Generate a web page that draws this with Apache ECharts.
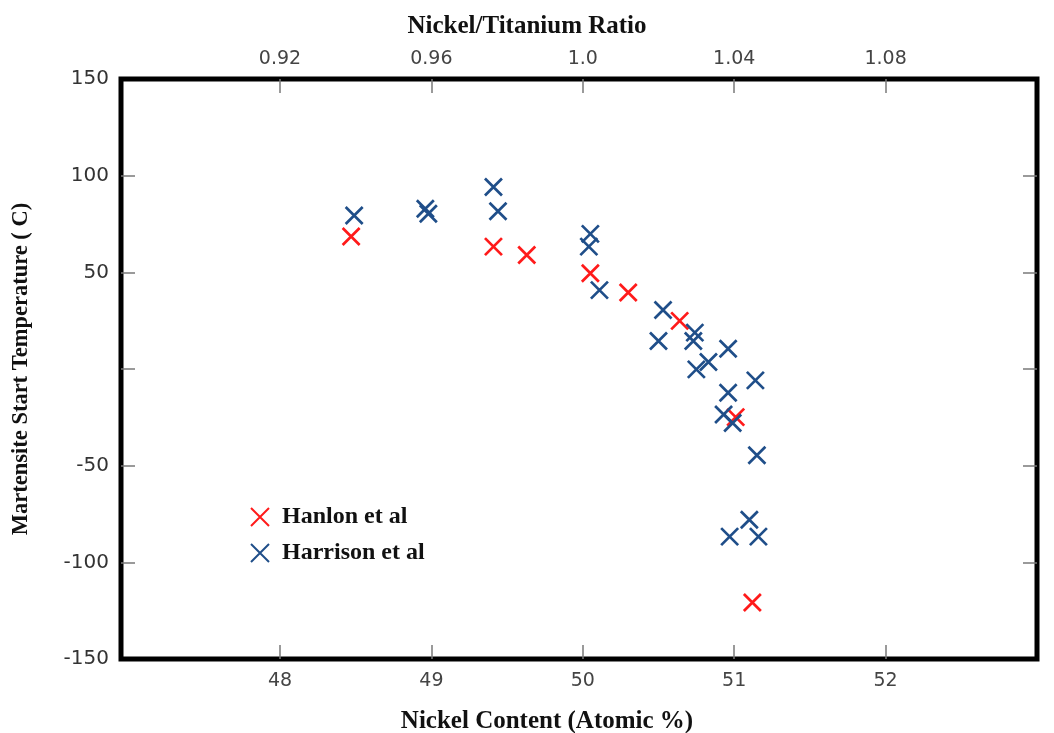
<!DOCTYPE html>
<html>
<head>
<meta charset="utf-8">
<script src="https://cdn.jsdelivr.net/npm/echarts@6/dist/echarts.min.js"></script>
<style>
html,body{margin:0;padding:0;background:#fff;}
#chart{width:1054px;height:733px;}
</style>
</head>
<body>
<div id="chart"></div>
<script>
// Data
const hanlonNi = [48.47, 49.41, 49.63, 50.05, 50.30, 50.64, 51.01, 51.12];
const hanlonMs = [68.5, 63.3, 59.0, 49.5, 39.6, 24.9, -24.9, -120.8];

const harrisonNi = [48.49, 48.96, 48.98, 49.41, 49.44, 50.05, 50.04, 50.11, 50.53, 50.50, 50.74, 50.73,
                    50.96, 50.83, 50.75, 51.14, 50.96, 50.93, 50.99, 51.15, 51.10, 50.97, 51.16];
const harrisonMs = [79.4, 82.9, 80.3, 94.1, 81.6, 69.9, 63.3, 40.8, 30.5, 14.5, 18.8, 14.5,
                    10.5, 3.6, -0.2, -5.9, -12.3, -23.5, -27.9, -44.6, -78.0, -86.7, -86.7];

const niTicks = [48, 49, 50, 51, 52];
const ratioLabels = ['0.92', '0.96', '1.0', '1.04', '1.08'];
const yTicks = [-100, -50, 0, 50, 100];

const seriesNames = ['Hanlon et al', 'Harrison et al'];

function pairs(xs, ys) { return xs.map((x, i) => [x, ys[i]]); }

const cross = 'path://M0,0L20,20M20,0L0,20';
const sansFont = 'DejaVu Sans';
const serifFont = 'Liberation Serif';

const chart = echarts.init(document.getElementById('chart'), null, {renderer: 'canvas'});
const tickStyle = {show: true, inside: true, length: 14, lineStyle: {color: '#7a7a7a', width: 1.5}};

chart.setOption({
  animation: false,
  backgroundColor: '#fff',
  grid: {left: 121, right: 17, top: 79, bottom: 74, containLabel: false, outerBoundsMode: 'none',
         show: true, borderColor: '#000', borderWidth: 5, backgroundColor: 'transparent'},
  legend: {
    data: seriesNames,
    orient: 'vertical',
    left: 245, top: 500,
    itemWidth: 18, itemHeight: 18, itemGap: 12,
    textStyle: {fontFamily: serifFont, fontWeight: 'bold', fontSize: 24, color: '#111', padding: [0, 0, 0, 8]}
  },
  xAxis: [
    {
      type: 'value', position: 'bottom', min: 46.95, max: 53,
      name: 'Nickel Content (Atomic %)', nameLocation: 'middle', nameGap: 50,
      nameTextStyle: {fontFamily: serifFont, fontWeight: 'bold', fontSize: 25, color: '#111', padding: [0, 64, 0, 0]},
      axisLine: {show: false, onZero: false},
      axisTick: Object.assign({customValues: niTicks}, tickStyle),
      axisLabel: {customValues: niTicks, margin: 13, fontFamily: sansFont, fontSize: 19, color: '#444'},
      splitLine: {show: false}
    },
    {
      type: 'value', position: 'top', min: 46.95, max: 53,
      name: 'Nickel/Titanium Ratio', nameLocation: 'middle', nameGap: 40,
      nameTextStyle: {fontFamily: serifFont, fontWeight: 'bold', fontSize: 25, color: '#111', padding: [0, 104, 0, 0]},
      axisLine: {show: false, onZero: false},
      axisTick: Object.assign({customValues: niTicks}, tickStyle),
      axisLabel: {customValues: niTicks, margin: 10, fontFamily: sansFont, fontSize: 19, color: '#444',
        formatter: v => ratioLabels[niTicks.indexOf(Math.round(v))] || ''},
      splitLine: {show: false}
    }
  ],
  yAxis: [
    {
      type: 'value', position: 'left', min: -150, max: 150, interval: 50,
      name: 'Martensite Start Temperature ( C)', nameLocation: 'middle', nameGap: 88, nameRotate: 90,
      nameTextStyle: {fontFamily: serifFont, fontWeight: 'bold', fontSize: 22.5, color: '#111'},
      axisLine: {show: false, onZero: false},
      axisTick: Object.assign({customValues: yTicks}, tickStyle),
      axisLabel: {margin: 12, fontFamily: sansFont, fontSize: 20, color: '#333',
        formatter: v => (v === 0 ? '' : String(v))},
      splitLine: {show: false}
    },
    {
      type: 'value', position: 'right', min: -150, max: 150, interval: 50,
      axisLine: {show: false, onZero: false},
      axisTick: Object.assign({customValues: yTicks}, tickStyle),
      axisLabel: {show: false},
      splitLine: {show: false}
    }
  ],
  series: [
    {
      name: seriesNames[0], type: 'scatter', xAxisIndex: 0, yAxisIndex: 0,
      symbol: cross, symbolSize: 17,
      itemStyle: {color: 'rgba(0,0,0,0)', borderColor: '#ff1a1a', borderWidth: 2.7, opacity: 1},
      data: pairs(hanlonNi, hanlonMs)
    },
    {
      name: seriesNames[1], type: 'scatter', xAxisIndex: 0, yAxisIndex: 0,
      symbol: cross, symbolSize: 17,
      itemStyle: {color: 'rgba(0,0,0,0)', borderColor: '#1f4e89', borderWidth: 2.7, opacity: 1},
      data: pairs(harrisonNi, harrisonMs)
    }
  ]
});
</script>
</body>
</html>
